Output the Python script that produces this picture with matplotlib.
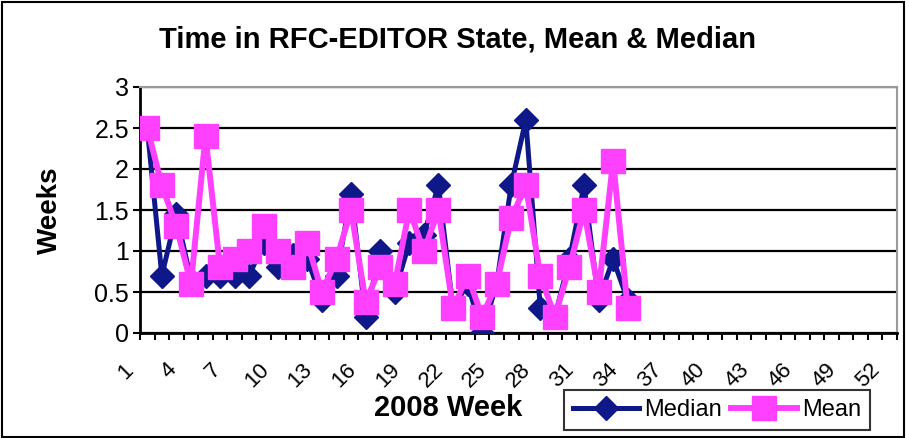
import numpy as np
import matplotlib.pyplot as plt
from matplotlib.patches import Rectangle

plt.rcParams['font.family'] = ['Liberation Sans', 'DejaVu Sans']

# data (weeks of 2008, values in weeks)
weeks = list(range(1, 35))
median = [2.5, 0.7, 1.45, 0.65, 0.7, 0.7, 0.7, 0.7, 1.1, 0.8, 0.95, 0.9, 0.4, 0.7, 1.7, 0.2, 1.0,
          0.5, 1.1, 1.2, 1.8, 0.3, 0.6, 0.0, 0.6, 1.8, 2.6, 0.3, 0.2, 0.9, 1.8, 0.4, 0.9, 0.4]
mean = [2.5, 1.8, 1.3, 0.6, 2.4, 0.8, 0.9, 1.0, 1.3, 1.0, 0.8, 1.1, 0.5, 0.9, 1.5, 0.38, 0.8,
        0.6, 1.5, 1.0, 1.5, 0.3, 0.7, 0.2, 0.6, 1.4, 1.8, 0.7, 0.2, 0.8, 1.5, 0.5, 2.1, 0.3]
n_weeks = 52
label_weeks = list(range(1, 53, 3))
y_ticks = [0, 0.5, 1, 1.5, 2, 2.5, 3]

navy = '#0F1889'
pink = '#FF40FF'

fig = plt.figure(figsize=(9.09, 4.38), dpi=100)
ax = fig.add_axes([140 / 909, 1 - 333 / 438, (897 - 140) / 909, (333 - 87) / 438])

ax.plot(weeks, median, color=navy, lw=3.6, marker='D', ms=12.5, zorder=3, label='Median')
ax.plot(weeks, mean, color=pink, lw=4.3, marker='s', ms=17, zorder=4, label='Mean')

ax.set_yticks(y_ticks)
ax.set_yticklabels(['0', '0.5', '1', '1.5', '2', '2.5', '3'], fontsize=18)
ax.yaxis.grid(True, color='black', lw=1.6)
ax.set_axisbelow(True)

# tick marks between categories, labels drawn as rotated text a bit to the left
ax.set_xticks([])
ax.set_xticks(np.arange(0.5, n_weeks + 1, 1), minor=True)
ax.tick_params(axis='x', which='minor', length=5, width=1.5, direction='out',
               labelbottom=False)
ax.tick_params(axis='y', length=5, width=1.5, direction='out', pad=3)
ax.set_xlim(0.5, n_weeks + 0.5)
ax.set_ylim(0, 3)
for w in label_weeks:
    ax.annotate(str(w), xy=(w, 0), xycoords=('data', 'axes fraction'),
                xytext=(-15.5, -19), textcoords='offset points', fontsize=16,
                rotation=45, ha='center', va='top', annotation_clip=False)

for s in ['left', 'bottom']:
    ax.spines[s].set_linewidth(2)
for s in ['top', 'right']:
    ax.spines[s].set_color('#999999')
    ax.spines[s].set_linewidth(1.5)

fig.text(50 / 909, 1 - 210 / 438, 'Weeks', fontsize=20, fontweight='bold',
         rotation=90, ha='center', va='center')
fig.text(448 / 909, 1 - 408 / 438, '2008 Week', fontsize=21, fontweight='bold',
         ha='center', va='center')
fig.text(457 / 909, 1 - 40 / 438, 'Time in RFC-EDITOR State, Mean & Median', fontsize=21,
         fontweight='bold', ha='center', va='center')

leg = fig.legend(loc='center', bbox_to_anchor=(717 / 909, 1 - 410 / 438), ncol=2,
                 fontsize=17, frameon=True, fancybox=False, handlelength=2.8,
                 columnspacing=0.4, handletextpad=0.2, borderpad=0.4, borderaxespad=0)
leg.get_frame().set_edgecolor('black')
leg.get_frame().set_linewidth(1.5)

fig.patches.append(Rectangle((0.002, 0.002), 0.993, 0.993, transform=fig.transFigure,
                             fill=False, edgecolor='black', lw=1.5))

fig.savefig('out.png', dpi=100)
